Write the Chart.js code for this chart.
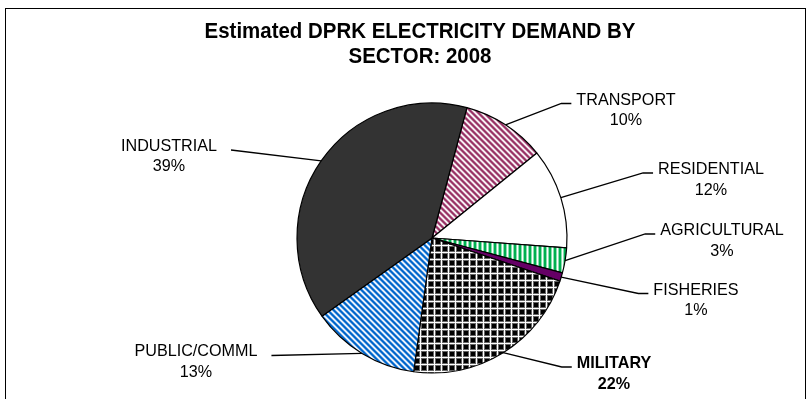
<!DOCTYPE html>
<html>
<head>
<meta charset="utf-8">
<script src="https://cdn.jsdelivr.net/npm/chart.js@4/dist/chart.umd.min.js"></script>
<style>
  html, body { margin: 0; padding: 0; background: #ffffff; }
  #wrap { position: relative; width: 812px; height: 399px; }
</style>
</head>
<body>
<div id="wrap"><canvas id="c" width="812" height="399"></canvas></div>
<script>
// ---- data ----
const sectors = ['TRANSPORT', 'RESIDENTIAL', 'AGRICULTURAL', 'FISHERIES', 'MILITARY', 'PUBLIC/COMML', 'INDUSTRIAL'];
const shares = [10, 12, 3, 1, 22, 13, 39];
const titleLines = ['Estimated DPRK ELECTRICITY DEMAND BY', 'SECTOR: 2008'];
const boldSectors = ['MILITARY'];

// ---- label placement (centre of the sector-name line, and which side the leader attaches) ----
const labelPlacement = [
  { x: 626, y: 100, side: 'right' },
  { x: 711, y: 169.5, side: 'right' },
  { x: 722, y: 230.5, side: 'right' },
  { x: 696, y: 290, side: 'right' },
  { x: 614, y: 363.5, side: 'right' },
  { x: 196, y: 351.5, side: 'left' },
  { x: 169, y: 146, side: 'left' }
];

const FONT = "'Liberation Sans', Arial, sans-serif";

// ---- fill patterns ----
function tile(w, h, shade) {
  const cv = document.createElement('canvas');
  cv.width = w; cv.height = h;
  const g = cv.getContext('2d');
  const img = g.createImageData(w, h);
  for (let y = 0; y < h; y++) {
    for (let x = 0; x < w; x++) {
      const c = shade(x, y);
      const i = (y * w + x) * 4;
      img.data[i] = c[0]; img.data[i + 1] = c[1]; img.data[i + 2] = c[2]; img.data[i + 3] = 255;
    }
  }
  g.putImageData(img, 0, 0);
  return g.createPattern(cv, 'repeat');
}
function mix(rgb, k) { // k=1 -> colour, k=0 -> white
  return rgb.map(v => Math.round(255 + (v - 255) * k));
}
function wave(t, p) { return 0.5 + 0.5 * Math.cos(2 * Math.PI * (t + 0.5) / p); }

function diagonalStripes(rgb, p) {
  return tile(p, p, (x, y) => {
    const t = (((x - y) % p) + p) % p;
    return mix(rgb, Math.min(1, wave(t, p) * 1.25));
  });
}
function verticalStripes(rgb, p) {
  return tile(p, 1, (x) => mix(rgb, Math.min(1, wave(x, p) * 1.3)));
}
function grid(p) {
  const line = t => (t === 0 ? 1 : (t === 1 || t === p - 1) ? 0.4 : 0);
  return tile(p, p, (x, y) => {
    const v = Math.round(255 * Math.max(line(x), line(y)));
    return [v, v, v];
  });
}

const fills = [
  diagonalStripes([153, 51, 102], 6),   // transport
  '#ffffff',                             // residential
  verticalStripes([0, 176, 80], 5),      // agricultural
  '#660066',                             // fisheries
  grid(7),                               // military
  diagonalStripes([0, 102, 204], 6),     // public / commercial
  '#333333'                              // industrial
];

// ---- labels with leader lines, title and frame ----
const decorations = {
  id: 'decorations',
  afterDatasetsDraw(chart) {
    const ctx = chart.ctx;
    const meta = chart.getDatasetMeta(0);
    const total = shares.reduce((a, b) => a + b, 0);
    ctx.save();
    ctx.textBaseline = 'middle';
    ctx.textAlign = 'center';
    meta.data.forEach((arc, i) => {
      const name = sectors[i];
      const pct = Math.round(shares[i] / total * 100) + '%';
      const place = labelPlacement[i];
      const bold = boldSectors.includes(name);
      ctx.font = (bold ? 'bold ' : '') + '17px ' + FONT;
      const nameW = ctx.measureText(name).width * 0.95;
      ctx.fillStyle = '#000';
      ctx.fillText(name, place.x, place.y, nameW);
      const pctW = ctx.measureText(pct).width * 0.95;
      ctx.fillText(pct, place.x, place.y + 20.5, pctW);

      // leader from the slice rim to the label
      const mid = (arc.startAngle + arc.endAngle) / 2;
      const ax = arc.x + Math.cos(mid) * arc.outerRadius;
      const ay = arc.y + Math.sin(mid) * arc.outerRadius;
      ctx.strokeStyle = '#000';
      ctx.lineWidth = 1.3;
      ctx.beginPath();
      ctx.moveTo(ax, ay);
      if (place.side === 'right') {
        const left = place.x - nameW / 2;
        const ly = place.y + 3.5;
        ctx.lineTo(left - 15, ly);
        ctx.lineTo(left - 5, ly);
      } else {
        const right = place.x + nameW / 2;
        ctx.lineTo(right + 14, place.y + 4);
      }
      ctx.stroke();
    });

    // title
    ctx.font = 'bold 22px ' + FONT;
    ctx.fillStyle = '#000';
    titleLines.forEach((line, k) => {
      const w = ctx.measureText(line).width * 0.93;
      ctx.fillText(line, 420, 32 + k * 25, w);
    });

    // frame
    ctx.strokeStyle = '#000';
    ctx.lineWidth = 1;
    ctx.strokeRect(5.5, 8.5, 800, 420);
    ctx.restore();
  }
};

new Chart(document.getElementById('c'), {
  type: 'pie',
  data: {
    labels: sectors,
    datasets: [{
      data: shares,
      backgroundColor: fills,
      borderColor: '#000000',
      borderWidth: 1.2,
      radius: 135
    }]
  },
  options: {
    responsive: false,
    animation: false,
    rotation: 15,
    layout: { padding: { left: 297, right: 245, top: 103, bottom: 26 } },
    plugins: {
      legend: { display: false },
      tooltip: { enabled: false },
      title: { display: false }
    }
  },
  plugins: [decorations]
});
</script>
</body>
</html>
